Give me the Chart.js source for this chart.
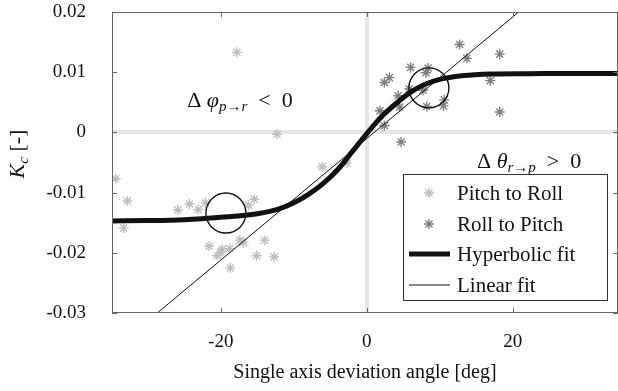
<!DOCTYPE html>
<html>
<head>
<meta charset="utf-8">
<script src="https://cdn.jsdelivr.net/npm/chart.js@4/dist/chart.umd.min.js"></script>
<style>
  html, body { margin: 0; padding: 0; background: #fff; }
  #wrap { width: 618px; height: 391px; }
</style>
</head>
<body>
<div id="wrap"><canvas id="chart" width="618" height="391"></canvas></div>
<script>
// --- data ---
const pitchToRollX = [-34.4, -32.8, -33.3, -25.9, -24.3, -23.1, -22.1, -21.6, -19.8, -20.5, -20.0, -18.8, -17.4, -16.9, -18.7, -16.2, -15.4, -14.0, -15.1, -12.7, -6.1, -17.8, -12.3, -2.7];
const pitchToRollY = [-0.0077, -0.0114, -0.0159, -0.0129, -0.0119, -0.0128, -0.0117, -0.0189, -0.0194, -0.0205, -0.0199, -0.0193, -0.0179, -0.0183, -0.0225, -0.0121, -0.0111, -0.0179, -0.0205, -0.0207, -0.0057, 0.0133, -0.0003, -0.0051];

const rollToPitchX = [12.7, 13.7, 18.2, 6.0, 8.4, 8.1, 3.1, 2.4, 16.9, 5.8, 7.7, 4.3, 4.5, 10.6, 10.5, 8.2, 1.8, 2.4, 18.2, 4.7];
const rollToPitchY = [0.0146, 0.0123, 0.0130, 0.0108, 0.0107, 0.0099, 0.0091, 0.0083, 0.0086, 0.0072, 0.0070, 0.0061, 0.0042, 0.0054, 0.0044, 0.0043, 0.0036, 0.0011, 0.0034, -0.0016];

const hyperX = [-35, -30, -25, -20, -15, -12, -10, -8, -6, -4, -2, 0, 2, 4, 6, 8, 10, 13, 17, 22, 28, 35];
const hyperY = [-0.0147, -0.01465, -0.0145, -0.0141, -0.0135, -0.0127, -0.0117, -0.0103, -0.0085, -0.0062, -0.0032, -0.0002, 0.0026, 0.0048, 0.0067, 0.0080, 0.0088, 0.0094, 0.0097, 0.00975, 0.0098, 0.0098];

const linearX = [-28.7, 20.8];
const linearY = [-0.03, 0.02];

const circleX = [-19.3, 8.5];
const circleY = [-0.0134, 0.0074];

const xTicks = [-20, 0, 20];
const yTicks = [-0.03, -0.02, -0.01, 0, 0.01, 0.02];

const SERIF = '"Liberation Serif", "Times New Roman", serif';

function pts(xs, ys) {
  return xs.map((x, i) => ({ x: x, y: ys[i] }));
}

// draw a run of text pieces with different fonts / offsets
function drawRich(ctx, parts, x, y, center) {
  let w = 0;
  parts.forEach(p => { ctx.font = p.font; w += ctx.measureText(p.t).width; });
  let cx = center ? x - w / 2 : x;
  parts.forEach(p => {
    ctx.font = p.font;
    ctx.fillText(p.t, cx, y + (p.dy || 0));
    cx += ctx.measureText(p.t).width;
  });
}

function asterisk(ctx, x, y, r) {
  ctx.beginPath();
  ctx.moveTo(x - r, y); ctx.lineTo(x + r, y);
  ctx.moveTo(x, y - r); ctx.lineTo(x, y + r);
  const d = r * Math.SQRT1_2;
  ctx.moveTo(x - d, y - d); ctx.lineTo(x + d, y + d);
  ctx.moveTo(x - d, y + d); ctx.lineTo(x + d, y - d);
  ctx.stroke();
}

// keep the plot box where the figure has it
function noPad(s) {
  s.paddingLeft = 0; s.paddingRight = 0; s.paddingTop = 0; s.paddingBottom = 0;
}

const framePlugin = {
  id: 'frame',
  afterDraw(chart) {
    const { ctx, chartArea: a, scales } = chart;
    const xs = scales.x, ys = scales.y;
    ctx.save();

    // box + inward ticks
    ctx.strokeStyle = '#666';
    ctx.lineWidth = 1;
    ctx.strokeRect(a.left + 0.5, a.top + 0.5, a.right - a.left - 1, a.bottom - a.top - 1);
    ctx.beginPath();
    xTicks.forEach(v => {
      const px = Math.round(xs.getPixelForValue(v)) + 0.5;
      ctx.moveTo(px, a.top); ctx.lineTo(px, a.top + 5);
      ctx.moveTo(px, a.bottom); ctx.lineTo(px, a.bottom - 5);
    });
    yTicks.forEach(v => {
      const py = Math.round(ys.getPixelForValue(v)) + 0.5;
      ctx.moveTo(a.left, py); ctx.lineTo(a.left + 5, py);
      ctx.moveTo(a.right, py); ctx.lineTo(a.right - 5, py);
    });
    ctx.stroke();

    // annotations
    ctx.fillStyle = '#111';
    ctx.textBaseline = 'alphabetic';
    ctx.textAlign = 'left';
    const reg = '22px ' + SERIF, it = 'italic 22px ' + SERIF, sub = 'italic 15px ' + SERIF;
    drawRich(ctx, [
      { t: '\u0394 ', font: reg },
      { t: '\u03c6', font: it },
      { t: 'p\u2192r', font: sub, dy: 4 },
      { t: '  <  0', font: reg }
    ], xs.getPixelForValue(-24.6), ys.getPixelForValue(0.0042), false);
    drawRich(ctx, [
      { t: '\u0394 ', font: reg },
      { t: '\u03b8', font: it },
      { t: 'r\u2192p', font: sub, dy: 4 },
      { t: '  >  0', font: reg }
    ], xs.getPixelForValue(15.1), ys.getPixelForValue(-0.0059), false);

    // y axis title
    ctx.save();
    ctx.translate(24, 154);
    ctx.rotate(-Math.PI / 2);
    ctx.textBaseline = 'alphabetic';
    drawRich(ctx, [
      { t: 'K', font: it },
      { t: 'c', font: sub, dy: 4 },
      { t: ' [-]', font: reg }
    ], 0, 0, true);
    ctx.restore();

    // legend
    const lx = 403, ly = 174, lw = 204, lh = 126;
    ctx.fillStyle = '#fff';
    ctx.fillRect(lx, ly, lw, lh);
    ctx.strokeStyle = '#333';
    ctx.lineWidth = 1;
    ctx.strokeRect(lx + 0.5, ly + 0.5, lw, lh);
    const rows = [193, 224, 254, 285];
    const items = chart.data.datasets.filter(d => d.label);
    items.forEach((d, i) => {
      const y = rows[i];
      ctx.strokeStyle = d.borderColor;
      ctx.lineWidth = d.borderWidth;
      if (d.showLine) {
        ctx.beginPath();
        ctx.moveTo(409, y); ctx.lineTo(450, y);
        ctx.stroke();
      } else {
        asterisk(ctx, 429, y, d.pointRadius);
      }
      ctx.fillStyle = '#111';
      ctx.font = '21px ' + SERIF;
      ctx.textBaseline = 'middle';
      ctx.fillText(d.label, 457, y + 1);
    });
    ctx.restore();
  }
};

new Chart(document.getElementById('chart'), {
  type: 'scatter',
  data: {
    datasets: [
      {
        label: 'Pitch to Roll',
        data: pts(pitchToRollX, pitchToRollY),
        pointStyle: 'star',
        pointRadius: 5,
        borderWidth: 1.4,
        borderColor: '#bdbdbd',
        backgroundColor: '#bdbdbd',
        order: 4
      },
      {
        label: 'Roll to Pitch',
        data: pts(rollToPitchX, rollToPitchY),
        pointStyle: 'star',
        pointRadius: 5,
        borderWidth: 1.4,
        borderColor: '#7f7f7f',
        backgroundColor: '#7f7f7f',
        order: 3
      },
      {
        label: 'Hyperbolic fit',
        data: pts(hyperX, hyperY),
        showLine: true,
        pointRadius: 0,
        borderWidth: 5,
        borderColor: '#111',
        cubicInterpolationMode: 'monotone',
        order: 1
      },
      {
        label: 'Linear fit',
        data: pts(linearX, linearY),
        showLine: true,
        pointRadius: 0,
        borderWidth: 1,
        borderColor: '#111',
        order: 2
      },
      {
        label: '',
        data: pts(circleX, circleY),
        pointStyle: 'circle',
        pointRadius: 20,
        borderWidth: 1.4,
        borderColor: '#111',
        backgroundColor: 'rgba(0,0,0,0)',
        order: 0
      }
    ]
  },
  options: {
    responsive: false,
    animation: false,
    devicePixelRatio: 1,
    layout: { autoPadding: false, padding: { top: 12, right: 0, left: 0, bottom: 0 } },
    plugins: {
      legend: { display: false },
      tooltip: { enabled: false }
    },
    scales: {
      x: {
        type: 'linear',
        min: -34.9,
        max: 34.4,
        afterBuildTicks: s => { s.ticks = xTicks.map(v => ({ value: v })); },
        afterFit: s => { s.height = 78; noPad(s); },
        grid: {
          drawTicks: true,
          tickLength: 18,
          tickColor: 'rgba(0,0,0,0)',
          color: c => (c.tick && c.tick.value === 0 ? '#e6e6e6' : 'rgba(0,0,0,0)'),
          lineWidth: 4
        },
        border: { display: false },
        ticks: {
          padding: 0,
          color: '#111',
          font: { family: SERIF, size: 19 },
          callback: v => String(v)
        },
        title: {
          display: true,
          text: 'Single axis deviation angle [deg]',
          color: '#111',
          font: { family: SERIF, size: 20 },
          padding: { top: 0, bottom: 6 }
        }
      },
      y: {
        type: 'linear',
        min: -0.03,
        max: 0.02,
        afterBuildTicks: s => { s.ticks = yTicks.map(v => ({ value: v })); },
        afterFit: s => { s.width = 112; noPad(s); },
        grid: {
          drawTicks: true,
          tickLength: 26,
          tickColor: 'rgba(0,0,0,0)',
          color: c => (c.tick && Math.abs(c.tick.value) < 1e-9 ? '#e6e6e6' : 'rgba(0,0,0,0)'),
          lineWidth: 4
        },
        border: { display: false },
        ticks: {
          padding: 0,
          color: '#111',
          font: { family: SERIF, size: 19 },
          callback: v => (Math.abs(v) < 1e-9 ? '0' : v.toFixed(2))
        }
      }
    }
  },
  plugins: [framePlugin]
});
</script>
</body>
</html>
